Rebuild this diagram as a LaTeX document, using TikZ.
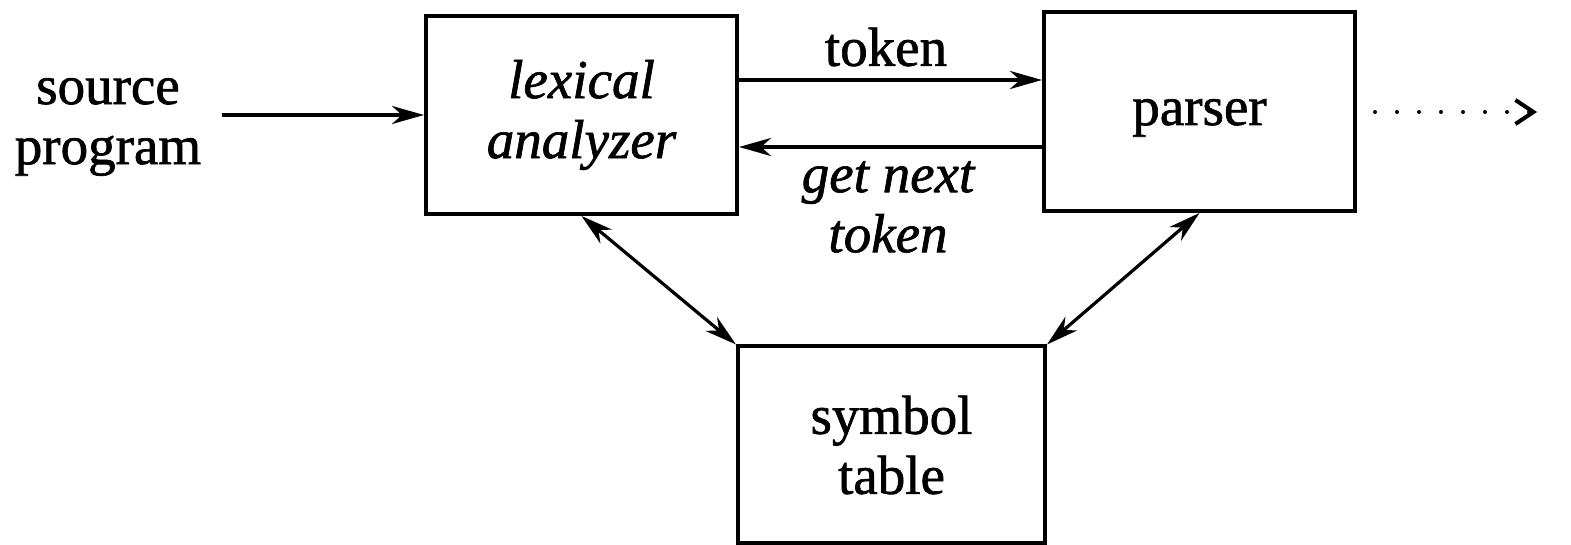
\documentclass[tikz,border=0pt]{standalone}
\usepackage{fontspec}
\setmainfont{Liberation Serif}[
  BoldFont=Liberation Serif, BoldFeatures={FakeBold=1.2},
  BoldItalicFont=Liberation Serif Italic, BoldItalicFeatures={FakeBold=1.2}]
\usetikzlibrary{arrows.meta}
\begin{document}
\begin{tikzpicture}[x=0.5pt,y=-0.5pt,
  every node/.style={font=\fontsize{27.5}{30}\selectfont\bfseries, align=center},
  box/.style={draw, line width=2pt, inner sep=0pt},
  link/.style={line width=2pt, -{Stealth[length=16pt,width=9pt,inset=5pt]}},
  both/.style={line width=1.6pt, {Stealth[length=16pt,width=9pt,inset=5pt]}-{Stealth[length=16pt,width=9pt,inset=5pt]}},
  dots/.style={line width=2pt, line cap=round, dash pattern=on 0pt off 11pt,
    -{Straight Barb[length=9pt,width=12pt,line width=2pt]}}
]
\useasboundingbox (0,0) rectangle (1571,545);

% the three phases
\node[box, minimum width=155.5pt, minimum height=99pt] (lex) at (581.5,115)
  {\itshape lexical\\\itshape analyzer};
\node[box, minimum width=155.5pt, minimum height=99.5pt] (par) at (1199.5,111.5)
  {\raisebox{-6.75pt}[0pt][0pt]{parser}};
\node[box, minimum width=153.5pt, minimum height=98.5pt] (sym) at (891.5,445)
  {symbol\\table};

% input text
\node[inner sep=0pt] (src) at (108,127) {source\\program};

% labels of the lexer/parser interface
\node (tok) at (886,47) {token};
\node (gnt) at (888,207) {\itshape get next\\\itshape token};

% rows of the horizontal connectors
\coordinate (top) at (0,80);
\coordinate (low) at (0,147);
\coordinate (out) at (1537,112);

\draw[link] ([xshift=10pt]src.east |- lex.west) -- (lex.west);
\draw[link] (lex.east |- top) -- (par.west |- top);
\draw[link] (par.west |- low) -- (lex.east |- low);
\draw[dots] ([xshift=9pt]par.east |- out) -- (out);

\draw[both] (lex.south) -- (sym.north west);
\draw[both] (par.south) -- (sym.north east);
\end{tikzpicture}
\end{document}
